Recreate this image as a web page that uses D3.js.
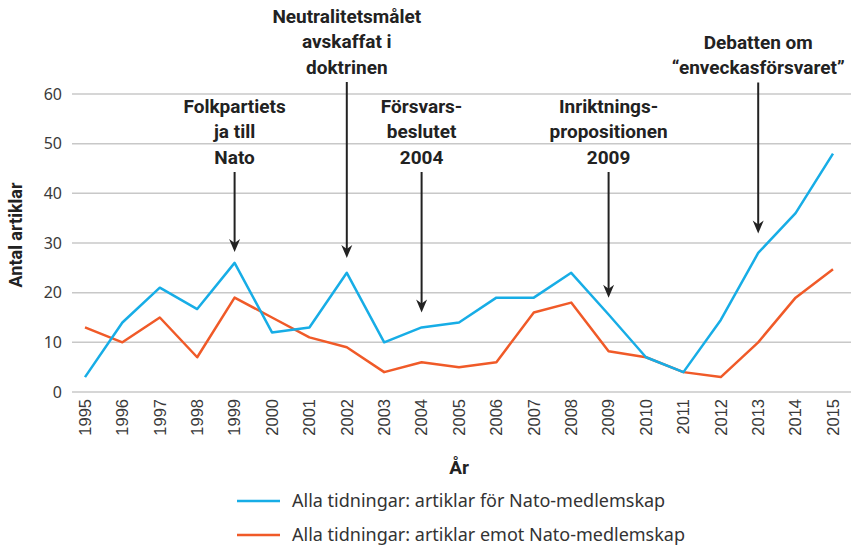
<!DOCTYPE html>
<html>
<head>
<meta charset="utf-8">
<script src="https://cdn.jsdelivr.net/npm/d3@7"></script>
<style>
    body { margin: 0; background: #fff; }
    svg { display: block; }
</style>
</head>
<body>
<div id="chart"></div>
<script>
"use strict";

const years = d3.range(1995, 2016);
const forNato = [3, 14, 21, 16.7, 26, 12, 13, 24, 10, 13, 14, 19, 19, 24, 15.6, 7, 4, 14.5, 28, 36, 48];
const emotNato = [13, 10, 15, 7, 19, 15, 11, 9, 4, 6, 5, 6, 16, 18, 8.2, 7, 4, 3, 10, 19, 24.7];
const yTicks = [0, 10, 20, 30, 40, 50, 60];
const seriesNames = ['Alla tidningar: artiklar för Nato-medlemskap',
                     'Alla tidningar: artiklar emot Nato-medlemskap'];
// Annotations: year, text lines, centre of first line, arrow tip value
const notes = [
    {year: 1999, lines: ['Folkpartiets', 'ja till', 'Nato'], top: 106, tip: 28.2},
    {year: 2002, lines: ['Neutralitetsmålet', 'avskaffat i', 'doktrinen'], top: 16, tip: 27},
    {year: 2004, lines: ['Försvars-', 'beslutet', '2004'], top: 106, tip: 16},
    {year: 2009, lines: ['Inriktnings-', 'propositionen', '2009'], top: 106, tip: 19},
    {year: 2013, lines: ['Debatten om', '\u201Cenveckasförsvaret\u201D'], top: 42, tip: 31.9}
];

const width = 851, height = 546;
const margin = {left: 72, right: 0, top: 94, bottom: 154};
const blue = '#17ade6', orange = '#f05a28';
const LINE_GAP = 25.5;

const svg = d3.select('#chart').append('svg')
    .attr('width', width)
    .attr('height', height);

const x = d3.scalePoint()
    .domain(years)
    .range([85, 833]);
const y = d3.scaleLinear()
    .domain([0, 60])
    .range([height - margin.bottom, margin.top]);

// Horizontal gridlines
svg.append('g').selectAll('line')
  .data(yTicks)
  .enter().append('line')
    .attr('x1', margin.left)
    .attr('x2', width)
    .attr('y1', d => y(d))
    .attr('y2', d => y(d))
    .attr('stroke', '#c8c8c8')
    .attr('stroke-width', 1.5);

// Y tick labels
svg.append('g').selectAll('text')
  .data(yTicks)
  .enter().append('text')
    .attr('x', 62)
    .attr('y', d => y(d))
    .attr('dy', '0.35em')
    .attr('text-anchor', 'end')
    .style('font', '16px "Noto Sans", sans-serif')
    .style('fill', '#3a3a3a')
    .text(d => d);

// X tick labels, rotated
svg.append('g').selectAll('text')
  .data(years)
  .enter().append('text')
    .attr('transform', d => 'translate(' + x(d) + ',399) rotate(-90)')
    .attr('dy', '0.35em')
    .attr('text-anchor', 'end')
    .style('font', '16.5px "Liberation Sans", Arial, sans-serif')
    .style('fill', '#3a3a3a')
    .text(d => d);

// Axis titles
svg.append('text')
    .attr('x', 459)
    .attr('y', 474)
    .attr('text-anchor', 'middle')
    .style('font', 'bold 19px Roboto, sans-serif')
    .style('fill', '#222')
    .text('År');
svg.append('text')
    .attr('transform', 'translate(22,235) rotate(-90)')
    .attr('text-anchor', 'middle')
    .style('font', 'bold 18px Roboto, sans-serif')
    .style('fill', '#222')
    .text('Antal artiklar');

// Lines
const line = d3.line()
    .x((d, i) => x(years[i]))
    .y(d => y(d));
[[emotNato, orange], [forNato, blue]].forEach(function (s) {
    svg.append('path')
        .datum(s[0])
        .attr('d', line)
        .attr('fill', 'none')
        .attr('stroke', s[1])
        .attr('stroke-width', 2.5)
        .attr('stroke-linejoin', 'round');
});

// Annotations with arrows
const noteG = svg.append('g').selectAll('g')
  .data(notes)
  .enter().append('g');
noteG.each(function (d) {
    let g = d3.select(this);
    let cx = x(d.year);
    let tipY = y(d.tip);
    d.lines.forEach(function (t, i) {
        g.append('text')
            .attr('x', cx)
            .attr('y', d.top + i * LINE_GAP)
            .attr('dy', '0.35em')
            .attr('text-anchor', 'middle')
            .style('font', 'bold 19px Roboto, sans-serif')
            .style('fill', '#222')
            .text(t);
    });
    let lineTop = d.top + (d.lines.length - 1) * LINE_GAP + 15;
    g.append('line')
        .attr('x1', cx)
        .attr('x2', cx)
        .attr('y1', lineTop)
        .attr('y2', tipY - 8)
        .attr('stroke', '#222')
        .attr('stroke-width', 2);
    // Arrowhead with a slight notch
    g.append('path')
        .attr('d', 'M' + (cx - 5.5) + ',' + (tipY - 13) +
                   'L' + cx + ',' + (tipY - 9) +
                   'L' + (cx + 5.5) + ',' + (tipY - 13) +
                   'L' + cx + ',' + tipY + 'Z')
        .attr('fill', '#222');
});

// Legend
const legend = svg.append('g').selectAll('g')
  .data(seriesNames)
  .enter().append('g')
    .attr('transform', (d, i) => 'translate(237,' + (501 + i * 34) + ')');
legend.append('line')
    .attr('x1', 0)
    .attr('x2', 43)
    .attr('stroke', (d, i) => i === 0 ? blue : orange)
    .attr('stroke-width', 2.5);
legend.append('text')
    .attr('x', 55)
    .attr('dy', '0.35em')
    .style('font', '18px "Noto Sans", sans-serif')
    .style('fill', '#333')
    .text(d => d);
</script>
</body>
</html>
